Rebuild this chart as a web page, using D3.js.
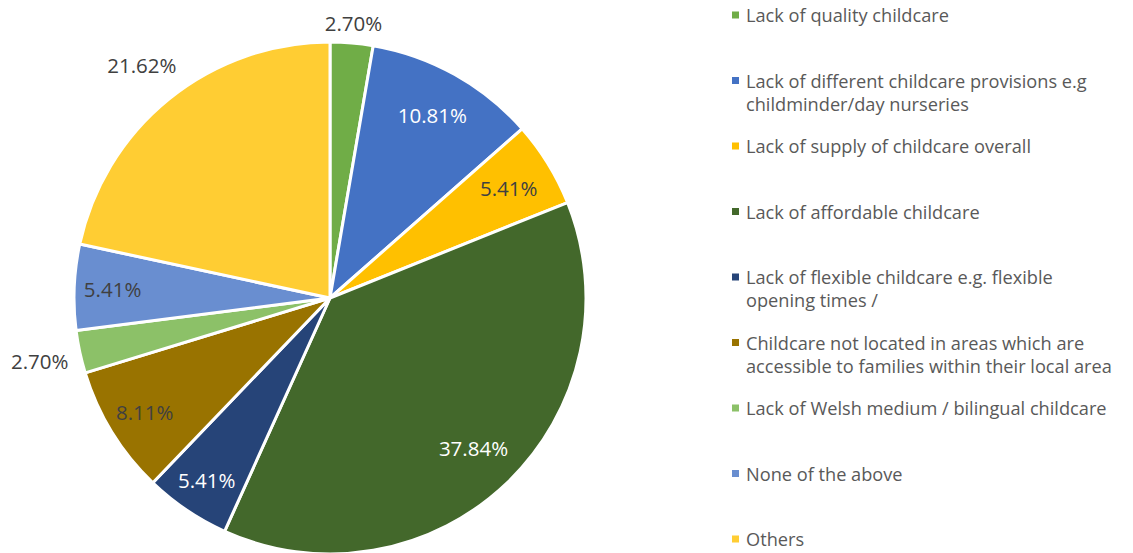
<!DOCTYPE html>
<html>
<head>
<meta charset="utf-8">
<script src="https://cdn.jsdelivr.net/npm/d3@7"></script>
<style>
  html, body { margin: 0; padding: 0; background: #ffffff; }
  svg { display: block; font-family: "Open Sans", "Noto Sans", sans-serif; }
</style>
</head>
<body>
<svg id="chart" width="1133" height="553"></svg>
<script>
// Barriers to childcare: share of responses
const categories = [
  "Lack of quality childcare",
  "Lack of different childcare provisions e.g childminder/day nurseries",
  "Lack of supply of childcare overall",
  "Lack of affordable childcare",
  "Lack of flexible childcare e.g. flexible opening times /",
  "Childcare not located in areas which are accessible to families within their local area",
  "Lack of Welsh medium / bilingual childcare",
  "None of the above",
  "Others"
];
// legend lines (wrapped as in the legend)
const legendLines = [
  ["Lack of quality childcare"],
  ["Lack of different childcare provisions e.g", "childminder/day nurseries"],
  ["Lack of supply of childcare overall"],
  ["Lack of affordable childcare"],
  ["Lack of flexible childcare e.g. flexible", "opening times /"],
  ["Childcare not located in areas which are", "accessible to families within their local area"],
  ["Lack of Welsh medium / bilingual childcare"],
  ["None of the above"],
  ["Others"]
];
const values = [2.70, 10.81, 5.41, 37.84, 5.41, 8.11, 2.70, 5.41, 21.62];
const colors = ["#70AD47", "#4472C4", "#FFC000", "#43682B", "#264478", "#997300", "#8CC168", "#698ED0", "#FFCD33"];
// label distance from the centre, as a fraction of the pie radius
const labelRadius = [1.08, 0.82, 0.82, 0.81, 0.86, 0.85, 1.16, 0.85, 1.17];
const labelColors = ["#404040", "#ffffff", "#404040", "#ffffff", "#ffffff", "#404040", "#404040", "#404040", "#404040"];

const svg = d3.select("#chart");
const cx = 330, cy = 298, R = 256;

const data = values.map((v, i) => ({ name: categories[i], value: v, i }));
const pie = d3.pie().sort(null).value(d => d.value);
const arcs = pie(data);

const arc = d3.arc().innerRadius(0).outerRadius(R);

const g = svg.append("g").attr("transform", `translate(${cx},${cy})`);

g.selectAll("path.slice")
  .data(arcs)
  .join("path")
  .attr("class", "slice")
  .attr("d", arc)
  .attr("fill", d => colors[d.data.i])
  .attr("stroke", "#ffffff")
  .attr("stroke-width", 3)
  .attr("stroke-linejoin", "round");

g.selectAll("text.lbl")
  .data(arcs)
  .join("text")
  .attr("class", "lbl")
  .attr("transform", d => {
    const r = R * labelRadius[d.data.i];
    const [x, y] = d3.arc().innerRadius(r).outerRadius(r).centroid(d);
    return `translate(${x},${y})`;
  })
  .attr("text-anchor", "middle")
  .attr("dominant-baseline", "central")
  .attr("font-size", 20.5)
  .attr("fill", d => labelColors[d.data.i])
  .text(d => d.data.value.toFixed(2) + "%");

// legend
const legendY = d3.scalePoint()
  .domain(d3.range(categories.length))
  .range([15, 539]);

const lg = svg.append("g");
const item = lg.selectAll("g.item")
  .data(data)
  .join("g")
  .attr("class", "item")
  .attr("transform", d => `translate(732,${legendY(d.i)})`);

item.append("rect")
  .attr("x", 0).attr("y", -3.5)
  .attr("width", 7).attr("height", 7)
  .attr("fill", d => colors[d.i]);

item.each(function (d) {
  const t = d3.select(this).append("text")
    .attr("x", 14)
    .attr("font-size", 18.2)
    .attr("fill", "#595959");
  legendLines[d.i].forEach((line, k) => {
    t.append("tspan")
      .attr("x", 14)
      .attr("y", k * 23)
      .attr("dominant-baseline", "central")
      .text(line);
  });
});
</script>
</body>
</html>
